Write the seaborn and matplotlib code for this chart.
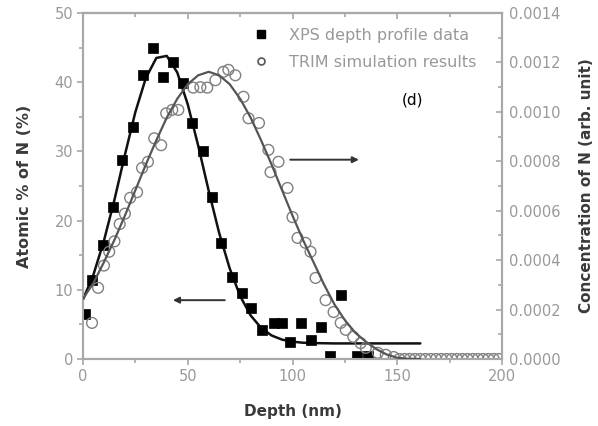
import matplotlib
matplotlib.use("Agg")
import matplotlib.pyplot as plt
from matplotlib.ticker import MultipleLocator, FormatStrFormatter
from matplotlib.lines import Line2D
import seaborn as sns

# ---------------- data ----------------
xps_depth = [1.0, 4.3, 9.6, 14.2, 18.6, 24.0, 28.6, 33.2, 38.0, 42.8, 47.8, 52.0, 57.3,
             61.6, 65.8, 71.2, 75.8, 80.4, 85.5, 91.0, 95.0, 99.0, 104.0, 108.6,
             113.4, 118.0, 123.0, 131.0, 136.0]
xps_atomic = [6.5, 11.4, 16.5, 22.0, 28.8, 33.5, 41.1, 45.0, 40.8, 42.9, 39.9, 34.1, 30.0,
              23.4, 16.7, 11.8, 9.5, 7.4, 4.2, 5.2, 5.2, 2.5, 5.2, 2.7,
              4.6, 0.4, 9.2, 0.4, 0.4]

xps_fit_depth = [0, 5, 10, 15, 20, 25, 30, 35, 40, 45, 50, 55, 60, 65, 70, 75, 80,
                 85, 90, 95, 100, 105, 110, 120, 130, 140, 150, 161]
xps_fit_atomic = [8.6, 12.2, 17.1, 23.0, 29.5, 35.7, 40.6, 43.5, 43.8, 41.4, 36.8, 30.8,
                  24.3, 18.2, 13.1, 9.1, 6.3, 4.5, 3.4, 2.8, 2.5, 2.35, 2.3, 2.25,
                  2.25, 2.25, 2.25, 2.25]

trim_depth = [4.3, 7.2, 10.0, 12.5, 15.0, 17.5, 20.0, 22.5, 25.8, 28.2, 31.0, 34.0,
              37.3, 39.7, 42.6, 45.5, 52.6, 56.0, 59.3, 63.2, 67.0, 69.4, 72.7, 76.6,
              79.0, 84.0, 88.5, 89.5, 93.3, 97.6, 100.0, 102.4, 106.2, 108.6, 111.0,
              115.8, 119.6, 123.0, 125.4, 129.0, 132.5, 135.0, 140.7, 144.5, 148.3,
              151.0, 153.5, 156.0, 158.5, 161.0, 163.5, 166.0, 168.5, 171.0, 173.5,
              176.0, 178.5, 181.0, 183.5, 186.0, 188.5, 191.0, 193.5, 196.0, 198.5]
trim_conc = [0.000146, 0.000288, 0.000378, 0.000434, 0.000476, 0.000546, 0.000588,
             0.000652, 0.000675, 0.000773, 0.000798, 0.000893, 0.000865, 0.000994,
             0.001008, 0.001008, 0.001098, 0.001100, 0.001098, 0.001128, 0.001162,
             0.001170, 0.001148, 0.001061, 0.000974, 0.000955, 0.000846, 0.000756,
             0.000798, 0.000692, 0.000574, 0.000490, 0.000470, 0.000434, 0.000328,
             0.000238, 0.000190, 0.000146, 0.000118, 0.000090, 0.000064, 0.000045,
             0.000025, 0.000017, 0.000008,
             0.0, 0.0, 0.0, 0.0, 0.0, 0.0, 0.0, 0.0, 0.0, 0.0,
             0.0, 0.0, 0.0, 0.0, 0.0, 0.0, 0.0, 0.0, 0.0, 0.0]

trim_fit_depth = [0, 5, 10, 15, 20, 25, 30, 35, 40, 45, 50, 55, 60, 65, 70, 75, 80,
                  85, 90, 95, 100, 105, 110, 115, 120, 125, 130, 135, 140, 145, 150,
                  155, 161]
trim_fit_conc = [0.000244, 0.000308, 0.000392, 0.000482, 0.000580, 0.000683, 0.000787,
                 0.000885, 0.000977, 0.001053, 0.001112, 0.001148, 0.001162, 0.001148,
                 0.001112, 0.001053, 0.000977, 0.000885, 0.000787, 0.000683, 0.000580,
                 0.000482, 0.000392, 0.000302, 0.000221, 0.000157, 0.000106, 0.000070,
                 0.000040, 0.000018, 0.000005, 0.000001, 0.0]

legend_labels = ["XPS depth profile data", "TRIM simulation results"]
x_label = "Depth (nm)"
y_label = "Atomic % of N (%)"
y2_label = "Concentration of N (arb. unit)"
panel_label = "(d)"

# ---------------- style ----------------
sns.set_style("ticks")
plt.rcParams["font.family"] = ["DejaVu Sans"]

spine_c = "#a8a8a8"
tick_c = "#999999"
label_c = "#3a3a3a"

fig = plt.figure(figsize=(5.98, 4.26), dpi=100)
ax = fig.add_axes([0.1388, 0.1573, 0.7007, 0.8122])
ax2 = ax.twinx()

# XPS data and fit (left axis)
sns.lineplot(x=xps_fit_depth, y=xps_fit_atomic, ax=ax, color="#111111", lw=1.8,
             sort=False, estimator=None, zorder=3)
sns.scatterplot(x=xps_depth, y=xps_atomic, ax=ax, marker="s", s=44, color="black",
                edgecolor="black", linewidth=0.5, zorder=4)

# TRIM data and fit (right axis)
sns.lineplot(x=trim_fit_depth, y=trim_fit_conc, ax=ax2, color="#555555", lw=1.6,
             sort=False, estimator=None, zorder=3)
sns.scatterplot(x=trim_depth, y=trim_conc, ax=ax2, marker="o", s=60,
                facecolor="none", edgecolor="#808080", linewidth=1.0, zorder=2)

ax.set_xlim(0, 200)
ax.set_ylim(0, 50)
ax2.set_ylim(0, 0.0014)

ax.xaxis.set_major_locator(MultipleLocator(50))
ax.xaxis.set_minor_locator(MultipleLocator(25))
ax.yaxis.set_major_locator(MultipleLocator(10))
ax.yaxis.set_minor_locator(MultipleLocator(5))
ax2.yaxis.set_major_locator(MultipleLocator(0.0002))
ax2.yaxis.set_minor_locator(MultipleLocator(0.0001))
ax2.yaxis.set_major_formatter(FormatStrFormatter("%.4f"))

for a in (ax, ax2):
    for sp in a.spines.values():
        sp.set_color(spine_c)
        sp.set_linewidth(1.5)
        sp.set_visible(True)

ax.tick_params(axis="both", which="both", direction="out", colors=spine_c,
               labelcolor=tick_c, labelsize=10.5, width=1.2)
ax.tick_params(which="major", length=4)
ax.tick_params(which="minor", length=3)
ax.tick_params(axis="y", pad=3)
ax2.tick_params(axis="y", which="both", direction="in", colors=spine_c,
                labelcolor=tick_c, labelsize=10.5, width=1.2, pad=5)
ax2.tick_params(which="major", length=4)
ax2.tick_params(which="minor", length=3)

top = ax.secondary_xaxis("top")
top.xaxis.set_major_locator(MultipleLocator(50))
top.xaxis.set_minor_locator(MultipleLocator(25))
top.tick_params(which="both", direction="in", colors=spine_c, labeltop=False,
                width=1.2)
top.tick_params(which="major", length=4)
top.tick_params(which="minor", length=3)
top.spines["top"].set_color(spine_c)
top.spines["top"].set_linewidth(1.5)

ax.set_xlabel(x_label, fontsize=11, fontweight="bold", color=label_c, labelpad=14)
ax.set_ylabel(y_label, fontsize=11.5, fontweight="bold", color=label_c, labelpad=16)
ax2.set_ylabel(y2_label, fontsize=11, fontweight="bold", color=label_c, labelpad=13)

# arrows pointing to the relevant axes
ax.annotate("", xy=(41.6, 8.5), xytext=(69.0, 8.5),
            arrowprops=dict(arrowstyle="-|>", color="#333333", lw=1.4,
                            mutation_scale=9))
ax.annotate("", xy=(133.0, 28.8), xytext=(97.6, 28.8),
            arrowprops=dict(arrowstyle="-|>", color="#333333", lw=1.4,
                            mutation_scale=9))

ax.text(157.4, 37.4, panel_label, fontsize=11, color="black", ha="center", va="center")

handles = [
    Line2D([], [], marker="s", ls="none", color="black", markersize=6),
    Line2D([], [], marker="o", ls="none", markerfacecolor="none",
           markeredgecolor="#555555", markersize=5, markeredgewidth=1.2),
]
leg = ax.legend(handles, legend_labels, loc="upper left", frameon=False,
                fontsize=11.5, handletextpad=1.25, labelspacing=0.75,
                bbox_to_anchor=(0.405, 0.957), borderaxespad=0.0, borderpad=0.0,
                handlelength=1.0)
for t in leg.get_texts():
    t.set_color("#999999")

fig.savefig("out.png", dpi=100)
